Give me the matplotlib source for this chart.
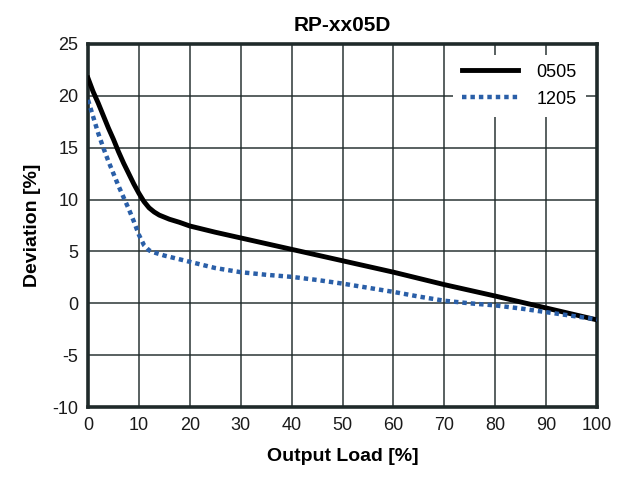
import numpy as np
import matplotlib
matplotlib.use("Agg")
import matplotlib.pyplot as plt

# values
load_0505 = [0, 1, 2, 3, 4, 5, 6, 7, 8, 9, 10, 11, 12, 13, 14, 16, 18, 20,
             25, 30, 40, 50, 60, 70, 80, 90, 100]
dev_0505 = [21.7, 20.4, 19.3, 18.1, 16.9, 15.8, 14.6, 13.5, 12.5, 11.5, 10.6,
            9.8, 9.2, 8.8, 8.5, 8.1, 7.8, 7.45, 6.85, 6.3, 5.2, 4.1, 3.0, 1.8,
            0.7, -0.45, -1.6]

load_1205 = [0, 1, 2, 3, 4, 5, 6, 7, 8, 9, 10, 11, 12, 13, 15, 17.5, 20, 25,
             30, 35, 40, 45, 50, 55, 60, 65, 70, 75, 80, 85, 90, 95, 100]
dev_1205 = [19.6, 18.0, 16.4, 15.0, 13.7, 12.5, 11.3, 10.2, 9.1, 7.9, 6.6,
            5.6, 5.1, 4.9, 4.6, 4.3, 4.0, 3.4, 3.0, 2.75, 2.55, 2.25, 1.9,
            1.5, 1.1, 0.65, 0.25, 0.0, -0.2, -0.5, -0.85, -1.2, -1.55]

series_names = ["0505", "1205"]
title = "RP-xx05D"

plt.rcParams['font.family'] = ['Liberation Sans Narrow', 'Liberation Sans', 'DejaVu Sans']
plt.rcParams['axes.unicode_minus'] = False

fig = plt.figure(figsize=(6.24, 4.87), dpi=100)
ax = fig.add_axes([0.141, 0.164, 0.816, 0.746])

ax.plot(load_0505, dev_0505, color="black", lw=3.5, solid_joinstyle="round",
        label=series_names[0], zorder=3)
ax.plot(load_1205, dev_1205, color="#2a5fa8", lw=3.2, linestyle=(0, (1, 0.9)),
        label=series_names[1], zorder=3)

ax.set_xlim(0, 100)
ax.set_ylim(-10, 25)
ax.set_xticks(np.arange(0, 101, 10))
ax.set_yticks(np.arange(-10, 26, 5))
ax.grid(True, color="#1f2a2a", lw=1.3, alpha=0.8)
ax.set_axisbelow(True)
ax.tick_params(length=0, labelsize=13, pad=7, colors="#1a1a1a")
for s in ax.spines.values():
    s.set_linewidth(2.6)
    s.set_color("#1f2a2a")

ax.set_title(title, fontsize=15, fontweight="bold", pad=9)
ax.set_xlabel("Output Load [%]", fontsize=14, fontweight="bold", labelpad=10)
ax.set_ylabel("Deviation [%]", fontsize=14, fontweight="bold", labelpad=8)

leg = ax.legend(loc="upper right", fontsize=13, handlelength=3.1,
                frameon=True, fancybox=False, borderpad=0.5,
                handletextpad=1.0, labelspacing=0.55, bbox_to_anchor=(0.995, 0.995))
leg.get_frame().set_edgecolor("none")
leg.get_frame().set_facecolor("white")
leg.get_frame().set_alpha(1)

fig.savefig("out.png", dpi=100)
